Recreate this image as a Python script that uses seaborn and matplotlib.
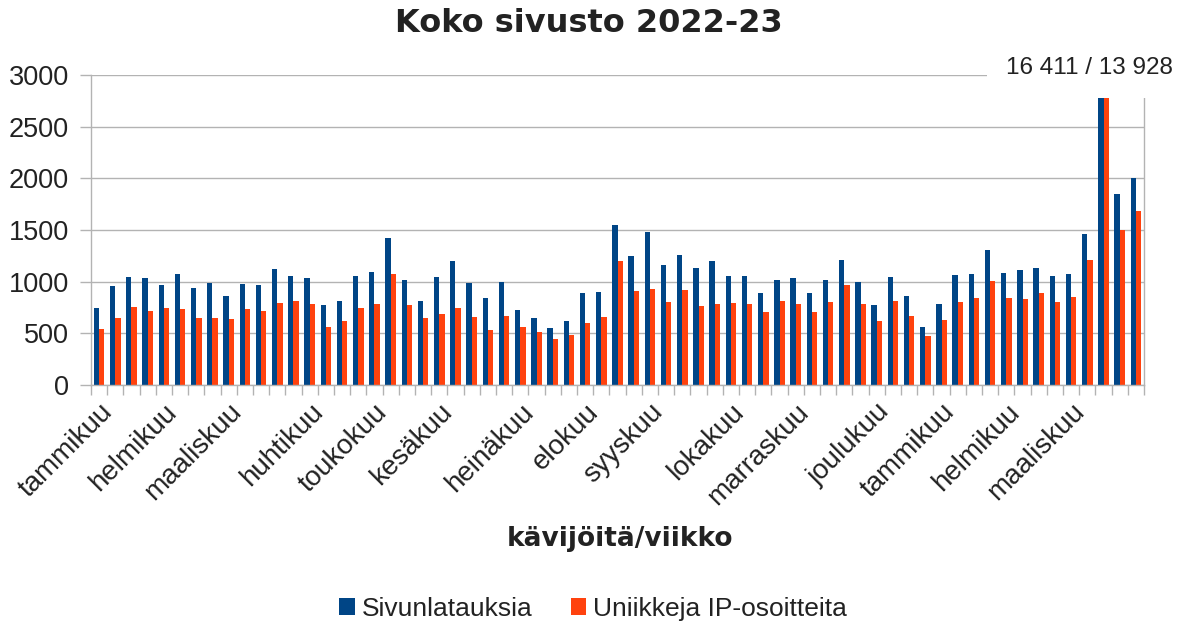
import numpy as np
import pandas as pd
import seaborn as sns
import matplotlib.pyplot as plt
from matplotlib.patches import Patch, Rectangle

# weekly visitors, 2022 week 1 .. 2023 week 13
page_loads = [741, 957, 1044, 1031, 963, 1076, 941, 986, 860, 980, 963, 1121, 1054,
              1034, 770, 815, 1058, 1089, 1421, 1012, 815, 1041, 1202, 989, 841, 996,
              725, 651, 554, 619, 892, 899, 1553, 1250, 1485, 1157, 1257, 1128, 1199,
              1057, 1050, 892, 1018, 1031, 886, 1012, 1211, 996, 776, 1041, 860, 557,
              786, 1066, 1073, 1311, 1086, 1112, 1131, 1050, 1076, 1460, 16411, 1849, 2001]
unique_ips = [541, 648, 757, 715, 744, 731, 648, 651, 638, 731, 715, 796, 815,
              786, 564, 619, 741, 780, 1073, 773, 648, 686, 744, 657, 528, 667,
              557, 512, 448, 483, 602, 654, 1199, 905, 931, 799, 922, 760, 783,
              789, 783, 706, 809, 780, 706, 802, 963, 780, 615, 809, 670, 470,
              628, 802, 838, 1005, 838, 828, 889, 802, 851, 1208, 13928, 1501, 1685]
weeks = list(range(len(page_loads)))

month_names = ['tammikuu', 'helmikuu', 'maaliskuu', 'huhtikuu', 'toukokuu', 'kesäkuu',
               'heinäkuu', 'elokuu', 'syyskuu', 'lokakuu', 'marraskuu', 'joulukuu',
               'tammikuu', 'helmikuu', 'maaliskuu']
month_weeks = [0, 4, 8, 13, 17, 21, 26, 30, 34, 39, 43, 48, 52, 56, 60]

series_names = ['Sivunlatauksia', 'Uniikkeja IP-osoitteita']
colors = ['#004586', '#ff420e']

df = pd.concat([
    pd.DataFrame({'week': weeks, 'series': series_names[0], 'value': page_loads}),
    pd.DataFrame({'week': weeks, 'series': series_names[1], 'value': unique_ips}),
])

grid_col = '#b3b3b3'
text_col = '#222222'

fig = plt.figure(figsize=(11.78, 6.23), dpi=100)
ax = fig.add_axes([91 / 1178, 1 - 385 / 623, (1144 - 91) / 1178, (385 - 75) / 623])

sns.barplot(data=df, x='week', y='value', hue='series', hue_order=series_names,
            palette=colors, saturation=1, width=0.66, linewidth=0,
            legend=False, ax=ax)

ax.set_ylim(0, 3000)
ax.set_xlim(-0.5, len(weeks) - 0.5)
ax.set_yticks(range(0, 3001, 500))
ax.yaxis.grid(True, color=grid_col, linewidth=1)
ax.set_axisbelow(True)
for side in ['left', 'right', 'bottom']:
    ax.spines[side].set_color(grid_col)
    ax.spines[side].set_linewidth(1)
ax.spines['top'].set_visible(False)

ax.set_xticks(month_weeks, month_names)
ax.set_xticks(np.arange(-0.5, len(weeks), 1), minor=True)
ax.tick_params(axis='x', which='major', length=0, pad=10)
ax.tick_params(axis='x', which='minor', length=7, color=grid_col, width=1)
ax.tick_params(axis='y', length=8, color=grid_col, width=1, pad=8)
for lbl in ax.get_xticklabels():
    lbl.set_rotation(45)
    lbl.set_ha('right')
    lbl.set_va('top')
    lbl.set_rotation_mode('anchor')
    lbl.set_family('Liberation Sans')
    lbl.set_fontsize(20)
    lbl.set_color(text_col)
for lbl in ax.get_yticklabels():
    lbl.set_family('Liberation Sans')
    lbl.set_fontsize(19.5)
    lbl.set_color(text_col)
ax.set_xlabel('')
ax.set_ylabel('')

# white box for the off-scale note
fig.patches.append(Rectangle((987 / 1178, 1 - 98 / 623), 1, 1, transform=fig.transFigure,
                             facecolor='white', edgecolor='none', zorder=5))
fig.text(1089 / 1178, 1 - 68 / 623, '16 411 / 13 928', ha='center', va='center',
         family='Liberation Sans', fontsize=17.5, color=text_col, zorder=6)

fig.text(0.5, 1 - 23 / 623, 'Koko sivusto 2022-23', ha='center', va='center',
         family='DejaVu Sans', fontweight='bold', fontsize=23, color=text_col)
fig.text(620 / 1178, 1 - 539 / 623, 'kävijöitä/viikko', ha='center', va='center',
         family='DejaVu Sans', fontweight='bold', fontsize=19, color=text_col)

handles = [Patch(facecolor=c, edgecolor='none', label=n) for c, n in zip(colors, series_names)]
leg = fig.legend(handles=handles, loc='center', bbox_to_anchor=(593 / 1178, 1 - 609 / 623),
                 ncol=2, frameon=False, handlelength=0.6, handleheight=0.6, handletextpad=0.25,
                 columnspacing=1.45, prop={'family': 'Liberation Sans', 'size': 19})
for t in leg.get_texts():
    t.set_color(text_col)

fig.savefig('out.png', dpi=100)
